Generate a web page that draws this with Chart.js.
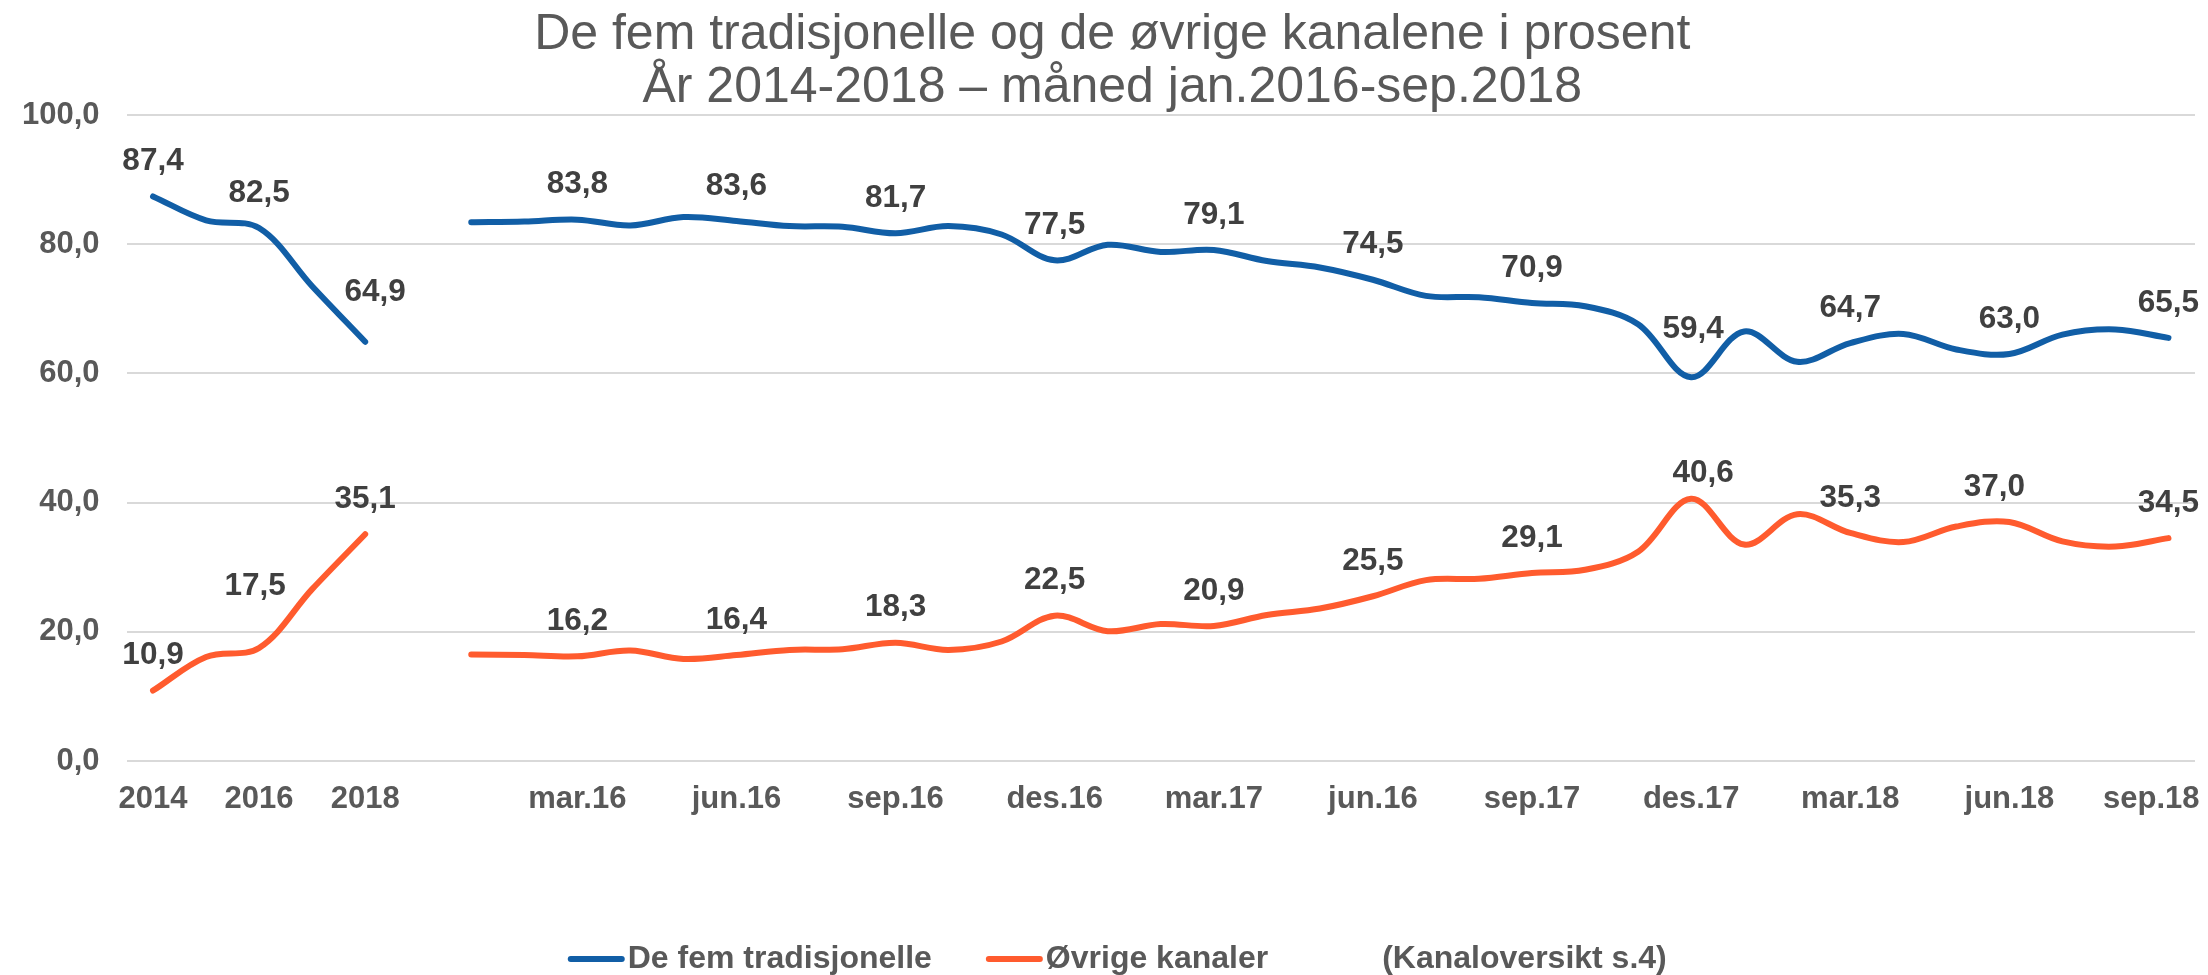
<!DOCTYPE html>
<html>
<head>
<meta charset="utf-8">
<style>
html,body{margin:0;padding:0;background:#ffffff;overflow:hidden;}
#wrap{width:2208px;height:975px;overflow:hidden;}
#c{display:block;}
</style>
<script src="https://cdn.jsdelivr.net/npm/chart.js@4.4.1/dist/chart.umd.min.js"></script>
</head>
<body>
<div id="wrap"><canvas id="c" width="2208" height="975"></canvas></div>
<script>
// ---- data ----
const titleLines = ['De fem tradisjonelle og de øvrige kanalene i prosent', 'År 2014-2018 – måned jan.2016-sep.2018'];
const categories = ['2014','','2016','','2018','',
  '','','mar.16','','','jun.16','','','sep.16','','','des.16',
  '','','mar.17','','','jun.16','','','sep.17','','','des.17',
  '','','mar.18','','','jun.18','','','sep.18'];
const seriesNames = ['De fem tradisjonelle', 'Øvrige kanaler', '(Kanaloversikt s.4)'];
const fiveTraditional = [87.4, 83.7, 82.5, 73.5, 64.9, null,
  83.4, 83.5, 83.8, 82.9, 84.2, 83.6, 82.8, 82.7, 81.7, 82.8, 81.5, 77.5,
  79.9, 78.8, 79.1, 77.4, 76.4, 74.5, 72.0, 71.8, 70.9, 70.4, 67.6, 59.4,
  66.5, 61.8, 64.7, 66.1, 63.7, 63.0, 66.0, 66.8, 65.5];
const otherChannels = [10.9, 16.1, 17.5, 26.6, 35.1, null,
  16.5, 16.4, 16.2, 17.1, 15.8, 16.4, 17.2, 17.3, 18.3, 17.2, 18.5, 22.5,
  20.1, 21.2, 20.9, 22.6, 23.6, 25.5, 28.0, 28.2, 29.1, 29.6, 32.4, 40.6,
  33.5, 38.2, 35.3, 33.9, 36.3, 37.0, 34.0, 33.2, 34.5];
const noteSeries = categories.map(() => null);
const labelledPoints = [0, 2, 4, 8, 11, 14, 17, 20, 23, 26, 29, 32, 35, 38];
const yTickLabels = ['0,0', '20,0', '40,0', '60,0', '80,0', '100,0'];

// ---- style ----
const FAMILY = '"Liberation Sans", Arial, Helvetica, sans-serif';
const BLUE = '#115EA6';
const ORANGE = '#FF5B2E';
const fmt = v => v.toFixed(1).replace('.', ',');

const valueLabels = {
  id: 'valueLabels',
  afterDatasetsDraw(chart, args, opts) {
    const ctx = chart.ctx;
    ctx.save();
    ctx.font = 'bold ' + opts.size + 'px ' + FAMILY;
    ctx.fillStyle = opts.color;
    ctx.textAlign = 'center';
    ctx.textBaseline = 'middle';
    [0, 1].forEach(di => {
      const meta = chart.getDatasetMeta(di);
      const data = chart.data.datasets[di].data;
      labelledPoints.forEach(i => {
        const el = meta.data[i];
        if (!el || data[i] == null) return;
        const adj = opts.adjust[di + '-' + i] || [0, 0];
        ctx.fillText(fmt(data[i]), el.x + adj[0], el.y - opts.offset + adj[1]);
      });
    });
    ctx.restore();
  }
};

// legend sample lines drawn next to the built-in legend's item boxes
const legendLines = {
  id: 'legendLines',
  afterDraw(chart, args, opts) {
    const legend = chart.legend;
    if (!legend || !legend.legendHitBoxes) return;
    const ctx = chart.ctx;
    ctx.save();
    ctx.lineCap = 'round';
    legend.legendHitBoxes.forEach((hb, i) => {
      const ds = chart.data.datasets[i];
      if (!ds || !ds.data.some(v => v != null)) return;
      const y = hb.top + hb.height / 2;
      ctx.strokeStyle = ds.borderColor;
      ctx.lineWidth = ds.borderWidth;
      ctx.beginPath();
      ctx.moveTo(hb.left + opts.start, y);
      ctx.lineTo(hb.left + opts.end, y);
      ctx.stroke();
    });
    ctx.restore();
  }
};

const lineStyle = {
  borderWidth: 6,
  pointRadius: 0,
  pointHoverRadius: 0,
  tension: 0.35,
  borderCapStyle: 'round',
  borderJoinStyle: 'round',
  spanGaps: false,
  fill: false
};

new Chart(document.getElementById('c'), {
  type: 'line',
  data: {
    labels: categories,
    datasets: [
      Object.assign({ label: seriesNames[0], data: fiveTraditional, borderColor: BLUE, backgroundColor: BLUE }, lineStyle),
      Object.assign({ label: seriesNames[1], data: otherChannels, borderColor: ORANGE, backgroundColor: ORANGE }, lineStyle),
      Object.assign({ label: seriesNames[2], data: noteSeries, borderColor: 'rgba(0,0,0,0)', backgroundColor: 'rgba(0,0,0,0)' }, lineStyle)
    ]
  },
  plugins: [valueLabels, legendLines],
  options: {
    responsive: false,
    animation: false,
    devicePixelRatio: 1,
    layout: { padding: { left: 16.5, right: 0, top: 0, bottom: 0 } },
    scales: {
      x: {
        offset: true,
        grid: { display: false, drawTicks: false },
        border: { display: false },
        ticks: {
          autoSkip: false, maxRotation: 0, minRotation: 0, padding: 20,
          color: '#595959', font: { family: FAMILY, size: 31, weight: 'bold' },
          // last label is pulled inwards so it stays inside the picture, as in the original
          callback: (v, i) => (i === categories.length - 1 ? categories[i] + '    ' : categories[i])
        },
        afterFit(s) { s.height = 138; s.paddingLeft = 0; s.paddingRight = 0; }
      },
      y: {
        min: 0, max: 100,
        grid: { color: '#D9D9D9', lineWidth: 2, drawTicks: false },
        border: { display: false },
        ticks: {
          stepSize: 20, padding: 27,
          color: '#595959', font: { family: FAMILY, size: 31, weight: 'bold' },
          callback: v => yTickLabels[Math.round(v / 20)]
        },
        afterFit(s) { s.width = 110; }
      },
      yRight: {
        position: 'right', min: 0, max: 1,
        grid: { display: false, drawTicks: false },
        border: { display: false },
        ticks: { display: false },
        afterFit(s) { s.width = 13; s.paddingTop = 0; s.paddingBottom = 0; }
      }
    },
    plugins: {
      tooltip: { enabled: false },
      title: {
        display: true, text: titleLines, color: '#595959',
        font: { family: FAMILY, size: 50, weight: 'normal', lineHeight: 1.06 },
        padding: { top: 9, bottom: 0 }
      },
      legend: {
        position: 'bottom',
        maxHeight: 76,
        labels: {
          usePointStyle: true, pointStyle: 'line', pointStyleWidth: 54, padding: 44,
          color: '#595959', font: { family: FAMILY, size: 32, weight: 'bold' },
          generateLabels: chart => chart.data.datasets.map((ds, i) => ({
            text: ds.label, strokeStyle: 'rgba(0,0,0,0)', fillStyle: 'rgba(0,0,0,0)',
            lineWidth: 1, lineCap: 'round', pointStyle: 'line',
            hidden: false, datasetIndex: i, fontColor: '#595959'
          }))
        }
      },
      legendLines: { start: 13, end: 64 },
      valueLabels: {
        size: 31.5, color: '#404040', offset: 35,
        adjust: { '0-4': [10, -14], '0-29': [2, -13], '1-2': [-4, -27], '1-29': [12, 10], '1-35': [-15, 0] }
      }
    }
  }
});
</script>
</body>
</html>
